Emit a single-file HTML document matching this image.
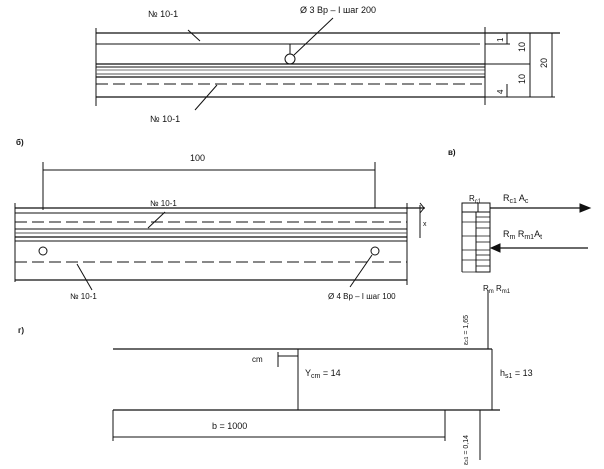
<!DOCTYPE html>
<html><head><meta charset="utf-8"><style>
html,body{margin:0;padding:0;background:#fff}
svg{display:block}
text{font-family:"Liberation Sans",sans-serif;fill:#111}
</style></head><body>
<svg width="604" height="469" viewBox="0 0 604 469" xmlns="http://www.w3.org/2000/svg" stroke="#111" fill="none" stroke-width="1">
<!-- top drawing -->
<g>
<line x1="96" y1="28" x2="96" y2="106"/>
<line x1="96" y1="33" x2="560" y2="33" stroke-width="1.3"/>
<line x1="96" y1="44" x2="480" y2="44"/>
<line x1="96" y1="64" x2="485" y2="64" stroke-width="1.3"/>
<line x1="96" y1="67" x2="485" y2="67"/>
<line x1="96" y1="70" x2="485" y2="70" stroke="#777"/>
<line x1="96" y1="74" x2="485" y2="74" stroke="#555"/>
<line x1="96" y1="77" x2="485" y2="77" stroke-width="1.3"/>
<line x1="96" y1="84" x2="485" y2="84" stroke-dasharray="12,5"/>
<line x1="96" y1="97" x2="485" y2="97" stroke-width="1.3"/>
<line x1="485" y1="27" x2="485" y2="105"/>
<line x1="485" y1="44" x2="510" y2="44"/>
<line x1="485" y1="64" x2="530" y2="64"/>
<line x1="485" y1="97" x2="555" y2="97"/>
<line x1="507" y1="33" x2="507" y2="44"/>
<line x1="507" y1="84" x2="507" y2="97"/>
<line x1="530" y1="33" x2="530" y2="97"/>
<line x1="552" y1="33" x2="552" y2="97"/>
<circle cx="290" cy="59" r="5"/>
<line x1="290" y1="54" x2="290" y2="44"/>
<line x1="294" y1="55" x2="333" y2="18"/>
<line x1="188" y1="30" x2="200" y2="41"/>
<line x1="217" y1="85" x2="195" y2="110"/>
<text x="148" y="17" font-size="9" stroke="none">№ 10-1</text>
<text x="300" y="13" font-size="9" stroke="none">Ø 3  Bp – I шаг 200</text>
<text x="150" y="122" font-size="9" stroke="none">№ 10-1</text>
<text x="525" y="52" font-size="9" stroke="none" transform="rotate(-90 525 52)">10</text>
<text x="525" y="84" font-size="9" stroke="none" transform="rotate(-90 525 84)">10</text>
<text x="547" y="68" font-size="9" stroke="none" transform="rotate(-90 547 68)">20</text>
<text x="503" y="42" font-size="8" stroke="none" transform="rotate(-90 503 42)">1</text>
<text x="503" y="94" font-size="8" stroke="none" transform="rotate(-90 503 94)">4</text>
</g>
<!-- б -->
<g>
<text x="16" y="145" font-size="8" font-weight="bold" stroke="none">б)</text>
<line x1="43" y1="170" x2="375" y2="170"/>
<line x1="43" y1="162" x2="43" y2="210"/>
<line x1="375" y1="162" x2="375" y2="208"/>
<text x="190" y="161" font-size="9" stroke="none">100</text>
<line x1="15" y1="203" x2="15" y2="282"/>
<line x1="407" y1="203" x2="407" y2="285"/>
<line x1="15" y1="208" x2="425" y2="208" stroke-width="1.3"/>
<line x1="15" y1="213" x2="407" y2="213"/>
<line x1="15" y1="222" x2="407" y2="222" stroke-dasharray="12,5"/>
<line x1="15" y1="229" x2="407" y2="229"/>
<line x1="15" y1="233" x2="407" y2="233" stroke="#555"/>
<line x1="15" y1="237" x2="407" y2="237" stroke-width="1.3"/>
<line x1="15" y1="241" x2="407" y2="241"/>
<line x1="15" y1="262" x2="407" y2="262" stroke-dasharray="12,5"/>
<line x1="15" y1="280" x2="407" y2="280" stroke-width="1.3"/>
<line x1="420" y1="205" x2="420" y2="238"/>
<path d="M420 203 L424 208 L420 213"/>
<circle cx="43" cy="251" r="4"/>
<circle cx="375" cy="251" r="4"/>
<line x1="148" y1="228" x2="165" y2="212"/>
<line x1="77" y1="264" x2="92" y2="290"/>
<line x1="372" y1="255" x2="350" y2="287"/>
<text x="150" y="206" font-size="8" stroke="none">№ 10-1</text>
<text x="70" y="299" font-size="8" stroke="none">№ 10-1</text>
<text x="328" y="299" font-size="8" stroke="none">Ø 4  Bp – I   шаг   100</text>
<text x="423" y="226" font-size="7" stroke="none">x</text>
</g>
<!-- в -->
<g>
<text x="448" y="155" font-size="8" font-weight="bold" stroke="none">в)</text>
<line x1="462" y1="203" x2="462" y2="272"/>
<rect x="462" y="203" width="16" height="9"/>
<rect x="478" y="203" width="12" height="9"/>
<rect x="476" y="212" width="14" height="60"/>
<g stroke-width="0.8">
<line x1="462" y1="222" x2="490" y2="222"/>
<line x1="462" y1="236" x2="490" y2="236"/>
<line x1="462" y1="250" x2="490" y2="250"/>
<line x1="462" y1="260" x2="490" y2="260"/>
<line x1="462" y1="272" x2="490" y2="272"/>
<line x1="476" y1="217" x2="490" y2="217"/>
<line x1="476" y1="228" x2="490" y2="228"/>
<line x1="476" y1="242" x2="490" y2="242"/>
<line x1="476" y1="255" x2="490" y2="255"/>
<line x1="476" y1="266" x2="490" y2="266"/>
</g>
<line x1="490" y1="208" x2="580" y2="208" stroke-width="1.3"/>
<path d="M580 204 L590 208 L580 212 Z" fill="#111"/>
<line x1="500" y1="248" x2="588" y2="248" stroke-width="1.3"/>
<path d="M500 244 L491 248 L500 252 Z" fill="#111"/>
<text x="469" y="201" font-size="8" stroke="none">R<tspan font-size="6" dy="2">c1</tspan></text>
<text x="503" y="201" font-size="9" stroke="none">R<tspan font-size="7" dy="2">c1</tspan><tspan dy="-2"> A</tspan><tspan font-size="7" dy="2">c</tspan></text>
<text x="503" y="237" font-size="9" stroke="none">R<tspan font-size="7" dy="2">m</tspan><tspan dy="-2">  R</tspan><tspan font-size="7" dy="2">m1</tspan><tspan dy="-2">A</tspan><tspan font-size="7" dy="2">t</tspan></text>
<text x="483" y="291" font-size="8" stroke="none">R<tspan font-size="6" dy="2">m</tspan><tspan dy="-2"> R</tspan><tspan font-size="6" dy="2">m1</tspan></text>
<line x1="488" y1="290" x2="488" y2="349"/>
<text x="468" y="345" font-size="7" stroke="none" transform="rotate(-90 468 345)">ε<tspan font-size="5">c1</tspan> = 1,65</text>
</g>
<!-- г -->
<g>
<text x="18" y="333" font-size="8" font-weight="bold" stroke="none">г)</text>
<line x1="113" y1="349" x2="492" y2="349" stroke-width="1.3"/>
<line x1="113" y1="410" x2="500" y2="410" stroke-width="1.3"/>
<line x1="492" y1="349" x2="492" y2="410"/>
<line x1="298" y1="349" x2="298" y2="410"/>
<line x1="278" y1="352" x2="278" y2="367"/>
<line x1="278" y1="356" x2="298" y2="356"/>
<text x="252" y="362" font-size="8" stroke="none">cm</text>
<text x="305" y="376" font-size="9" stroke="none">Y<tspan font-size="7" dy="2">cm</tspan><tspan dy="-2">  =  14</tspan></text>
<text x="500" y="376" font-size="9" stroke="none">h<tspan font-size="7" dy="2">s1</tspan><tspan dy="-2">  =  13</tspan></text>
<line x1="113" y1="410" x2="113" y2="441"/>
<line x1="445" y1="410" x2="445" y2="441"/>
<line x1="113" y1="437" x2="445" y2="437"/>
<text x="212" y="429" font-size="9" stroke="none">b  =  1000</text>
<line x1="480" y1="410" x2="480" y2="460"/>
<text x="468" y="465" font-size="7" stroke="none" transform="rotate(-90 468 465)">ε<tspan font-size="5">s1</tspan> = 0,14</text>
</g>
</svg>
</body></html>
